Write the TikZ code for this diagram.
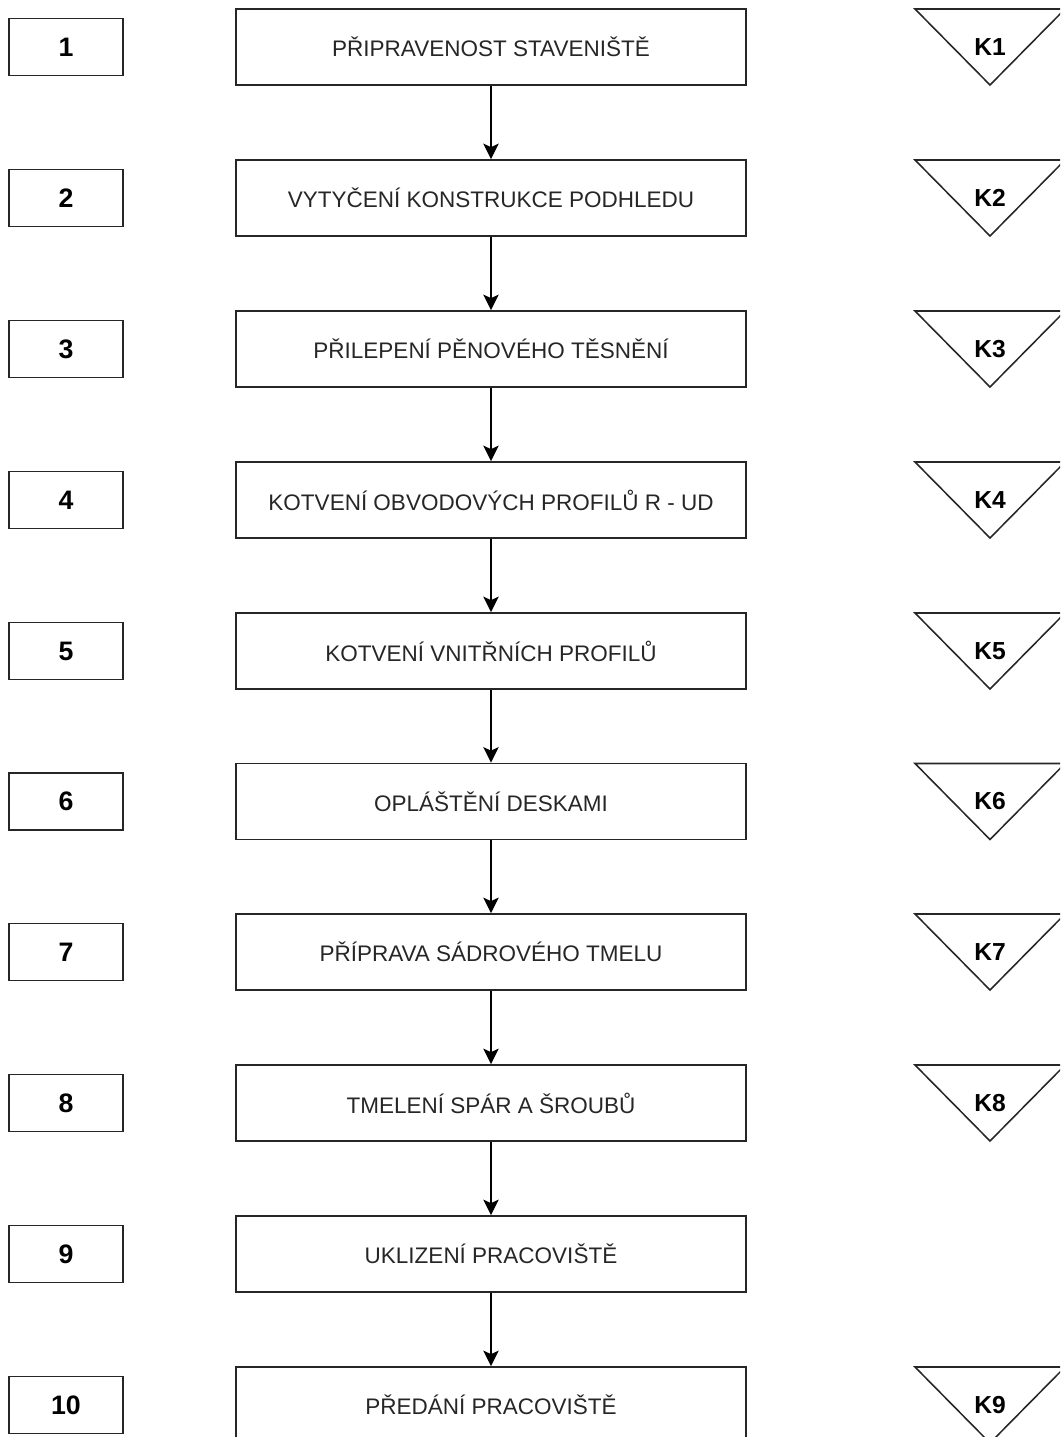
\documentclass[tikz,border=0pt]{standalone}
\usepackage{fontspec}
\setmainfont{Liberation Sans}
\usetikzlibrary{arrows.meta}
\begin{document}
\begin{tikzpicture}[x=0.025cm, y=-0.025cm,
		step box/.style={draw=black!85, line width=1.3pt, minimum width=12.75cm, minimum height=1.9cm, text=black!85, font=\fontsize{16}{19}\selectfont},
		num box/.style={draw=black!85, line width=1.3pt, minimum width=2.85cm, minimum height=1.425cm, font=\bfseries\fontsize{19}{22}\selectfont},
		kontrola/.style={font=\bfseries\fontsize{17.5}{20}\selectfont},
		tri/.style={draw=black!85, line width=1.1pt, line join=miter},
		flow/.style={draw=black, line width=1.1pt, -{Stealth[length=11pt, width=11pt, inset=2.5pt]}}]
	% Rozmery obrazku
	\path[use as bounding box] (0,0) rectangle (1060,1437);
	\clip (0,0) rectangle (1060,1437);
	
	% Cisla kroku
	\node[num box] (n1) at (66,47) {1};
	\node[num box] (n2) at (66,198) {2};
	\node[num box] (n3) at (66,349) {3};
	\node[num box] (n4) at (66,500) {4};
	\node[num box] (n5) at (66,651) {5};
	\node[num box] (n6) at (66,801.5) {6};
	\node[num box] (n7) at (66,952) {7};
	\node[num box] (n8) at (66,1103) {8};
	\node[num box] (n9) at (66,1254) {9};
	\node[num box] (n10) at (66,1405) {10};
	
	% Pracovni postup
	\node[step box] (s1) at (491,47) {PŘIPRAVENOST STAVENIŠTĚ};
	\node[step box] (s2) at (491,198) {VYTYČENÍ KONSTRUKCE PODHLEDU};
	\node[step box] (s3) at (491,349) {PŘILEPENÍ PĚNOVÉHO TĚSNĚNÍ};
	\node[step box] (s4) at (491,500) {KOTVENÍ OBVODOVÝCH PROFILŮ R - UD};
	\node[step box] (s5) at (491,651) {KOTVENÍ VNITŘNÍCH PROFILŮ};
	\node[step box] (s6) at (491,801.5) {OPLÁŠTĚNÍ DESKAMI};
	\node[step box] (s7) at (491,952) {PŘÍPRAVA SÁDROVÉHO TMELU};
	\node[step box] (s8) at (491,1103) {TMELENÍ SPÁR A ŠROUBŮ};
	\node[step box] (s9) at (491,1254) {UKLIZENÍ PRACOVIŠTĚ};
	\node[step box] (s10) at (491,1405) {PŘEDÁNÍ PRACOVIŠTĚ};
	
	% Sipky
	\draw[flow] (s1) -- (s2);
	\draw[flow] (s2) -- (s3);
	\draw[flow] (s3) -- (s4);
	\draw[flow] (s4) -- (s5);
	\draw[flow] (s5) -- (s6);
	\draw[flow] (s6) -- (s7);
	\draw[flow] (s7) -- (s8);
	\draw[flow] (s8) -- (s9);
	\draw[flow] (s9) -- (s10);
	
	% Kontroly
	\node[kontrola] (k1) at (990,47) {K1};
	\draw[tri] ([shift={(-75,-38)}]k1.center) -- ([shift={(75,-38)}]k1.center) -- ([shift={(0,38)}]k1.center) -- cycle;
	\node[kontrola] (k2) at (990,198) {K2};
	\draw[tri] ([shift={(-75,-38)}]k2.center) -- ([shift={(75,-38)}]k2.center) -- ([shift={(0,38)}]k2.center) -- cycle;
	\node[kontrola] (k3) at (990,349) {K3};
	\draw[tri] ([shift={(-75,-38)}]k3.center) -- ([shift={(75,-38)}]k3.center) -- ([shift={(0,38)}]k3.center) -- cycle;
	\node[kontrola] (k4) at (990,500) {K4};
	\draw[tri] ([shift={(-75,-38)}]k4.center) -- ([shift={(75,-38)}]k4.center) -- ([shift={(0,38)}]k4.center) -- cycle;
	\node[kontrola] (k5) at (990,651) {K5};
	\draw[tri] ([shift={(-75,-38)}]k5.center) -- ([shift={(75,-38)}]k5.center) -- ([shift={(0,38)}]k5.center) -- cycle;
	\node[kontrola] (k6) at (990,801.5) {K6};
	\draw[tri] ([shift={(-75,-38)}]k6.center) -- ([shift={(75,-38)}]k6.center) -- ([shift={(0,38)}]k6.center) -- cycle;
	\node[kontrola] (k7) at (990,952) {K7};
	\draw[tri] ([shift={(-75,-38)}]k7.center) -- ([shift={(75,-38)}]k7.center) -- ([shift={(0,38)}]k7.center) -- cycle;
	\node[kontrola] (k8) at (990,1103) {K8};
	\draw[tri] ([shift={(-75,-38)}]k8.center) -- ([shift={(75,-38)}]k8.center) -- ([shift={(0,38)}]k8.center) -- cycle;
	\node[kontrola] (k9) at (990,1405) {K9};
	\draw[tri] ([shift={(-75,-38)}]k9.center) -- ([shift={(75,-38)}]k9.center) -- ([shift={(0,38)}]k9.center) -- cycle;
\end{tikzpicture}
\end{document}
